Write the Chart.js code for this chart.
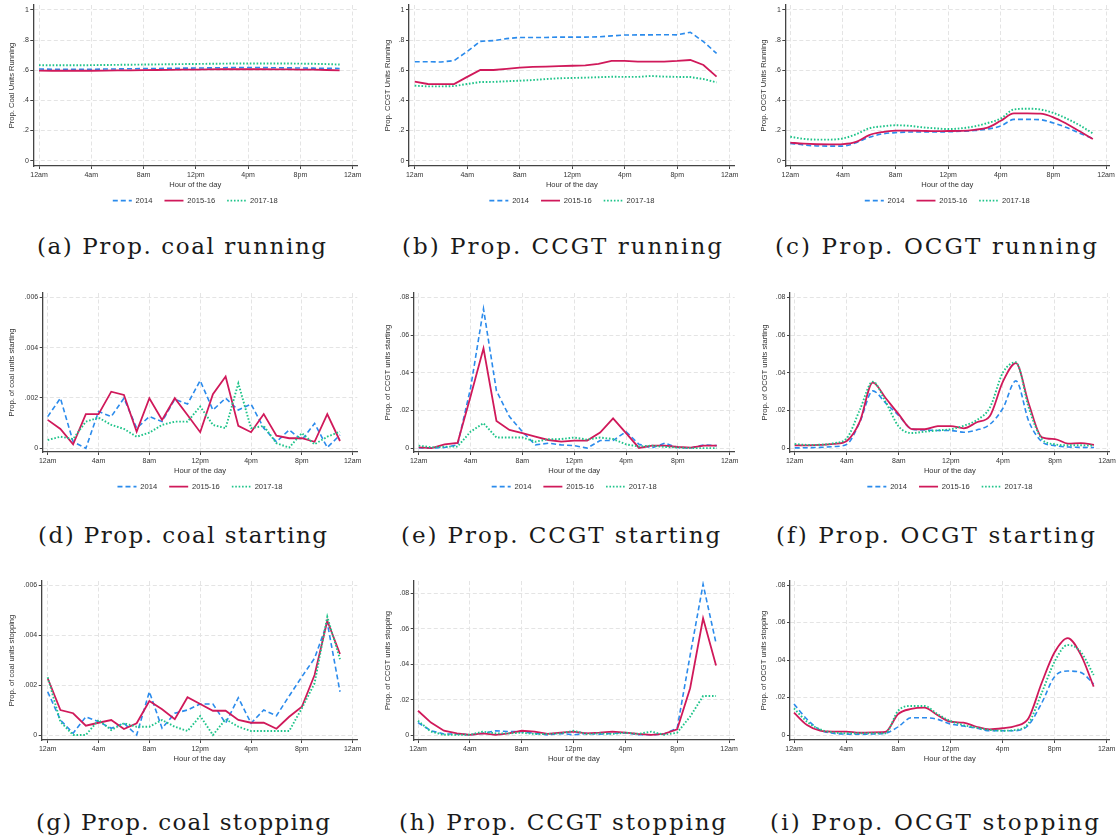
<!DOCTYPE html>
<html><head><meta charset="utf-8">
<script src="https://cdn.jsdelivr.net/npm/chart.js@4.4.1/dist/chart.umd.min.js"></script>
<style>
html,body{margin:0;padding:0;background:#fff;}
body{width:1119px;height:840px;position:relative;overflow:hidden;}
.pane{position:absolute;}
.cap{position:absolute;font-family:"DejaVu Serif",serif;font-size:23px;line-height:1;white-space:nowrap;color:#1a1a1a;}
</style></head><body>
<script>
// ---------------- data ----------------
const hours = [0,1,2,3,4,5,6,7,8,9,10,11,12,13,14,15,16,17,18,19,20,21,22,23];
const xTickValues = [0,4,8,12,16,20,24];
const xTickLabels = ['12am','4am','8am','12pm','4pm','8pm','12am'];
const seriesNames = ['2014','2015-16','2017-18'];

const runTicks = [0,0.2,0.4,0.6,0.8,1];
const runTickLabels = ['0','.2','.4','.6','.8','1'];
const coalTicks = [0,0.002,0.004,0.006];
const coalTickLabels = ['0','.002','.004','.006'];
const gasTicks = [0,0.02,0.04,0.06,0.08];
const gasTickLabels = ['0','.02','.04','.06','.08'];

const coalRun2014 = [0.608,0.607,0.607,0.607,0.607,0.608,0.609,0.610,0.611,0.612,0.613,0.614,0.615,0.616,0.617,0.618,0.618,0.618,0.617,0.616,0.615,0.614,0.613,0.612];
const coalRun1516 = [0.598,0.597,0.597,0.597,0.597,0.598,0.599,0.600,0.601,0.602,0.603,0.604,0.605,0.606,0.607,0.607,0.607,0.607,0.606,0.606,0.605,0.604,0.602,0.600];
const coalRun1718 = [0.634,0.633,0.633,0.633,0.634,0.635,0.636,0.637,0.638,0.639,0.640,0.641,0.642,0.643,0.644,0.645,0.645,0.645,0.645,0.645,0.644,0.643,0.641,0.638];

const ccgtRun2014 = [0.657,0.657,0.655,0.664,0.725,0.792,0.797,0.810,0.818,0.818,0.818,0.820,0.820,0.820,0.822,0.828,0.834,0.835,0.835,0.836,0.835,0.852,0.790,0.712];
const ccgtRun1516 = [0.524,0.509,0.508,0.508,0.556,0.602,0.602,0.610,0.617,0.622,0.624,0.627,0.630,0.632,0.642,0.662,0.662,0.657,0.657,0.658,0.662,0.668,0.635,0.558];
const ccgtRun1718 = [0.498,0.493,0.493,0.495,0.509,0.522,0.523,0.527,0.531,0.535,0.542,0.547,0.549,0.551,0.554,0.557,0.556,0.556,0.562,0.558,0.556,0.555,0.542,0.520];

const ocgtRun2014 = [0.115,0.105,0.098,0.097,0.097,0.120,0.155,0.178,0.186,0.190,0.190,0.190,0.192,0.195,0.200,0.210,0.230,0.274,0.274,0.272,0.250,0.220,0.182,0.147];
const ocgtRun1516 = [0.120,0.113,0.109,0.108,0.110,0.125,0.170,0.190,0.199,0.200,0.198,0.196,0.197,0.198,0.205,0.220,0.265,0.314,0.314,0.312,0.288,0.245,0.195,0.144];
const ocgtRun1718 = [0.159,0.145,0.140,0.140,0.148,0.175,0.215,0.228,0.235,0.232,0.222,0.215,0.210,0.215,0.228,0.250,0.280,0.340,0.345,0.340,0.317,0.280,0.235,0.181];

const coalStart2014 = [0.00126,0.00199,0.00026,0.0,0.00146,0.00126,0.00199,0.0008,0.00126,0.00106,0.00195,0.00176,0.00269,0.00152,0.00199,0.00152,0.00176,0.0008,0.00026,0.00073,0.00033,0.00099,0.00003,0.00053];
const coalStart1516 = [0.00113,0.00077,0.00016,0.00136,0.00136,0.00225,0.00212,0.00066,0.00199,0.00113,0.00199,0.00132,0.00064,0.00215,0.00285,0.00089,0.00064,0.00136,0.0005,0.0004,0.0004,0.00026,0.00136,0.00029];
const coalStart1718 = [0.00033,0.00046,0.00037,0.00106,0.00122,0.00093,0.00077,0.00046,0.00062,0.00093,0.00106,0.00106,0.00166,0.00093,0.0008,0.00258,0.0008,0.00089,0.0002,0.00003,0.0006,0.00016,0.00046,0.00066];

const ccgtStart2014 = [0.0002,0.0001,0.0004,0.0018,0.0318,0.0739,0.0304,0.0168,0.0088,0.0018,0.0027,0.0018,0.0014,0.0001,0.0041,0.0041,0.0088,0.0021,0.0002,0.0027,0.0004,0.0002,0.0018,0.0014];
const ccgtStart1516 = [0.0005,0.0001,0.0021,0.0028,0.0274,0.0530,0.0145,0.0097,0.0080,0.0062,0.0044,0.0035,0.0041,0.0041,0.0083,0.0159,0.0080,0.0002,0.0014,0.0014,0.0007,0.0004,0.0014,0.0014];
const ccgtStart1718 = [0.0014,0.0005,0.0009,0.0009,0.0088,0.0133,0.0057,0.0057,0.0057,0.0035,0.0048,0.0049,0.0057,0.0046,0.0057,0.0049,0.0021,0.0009,0.0014,0.0007,0.0004,0.0001,0.0001,0.0001];

const ocgtStart2014 = [0.0002,0.0003,0.0005,0.0009,0.0021,0.0138,0.0304,0.0239,0.0173,0.0102,0.0097,0.0094,0.0094,0.0085,0.0097,0.0127,0.0212,0.0357,0.0141,0.0035,0.0014,0.0007,0.0005,0.0004];
const ocgtStart1516 = [0.0016,0.0016,0.0018,0.0023,0.0039,0.0141,0.0348,0.0265,0.0180,0.0102,0.0101,0.0117,0.0118,0.0106,0.0138,0.0171,0.0353,0.0451,0.0233,0.0058,0.0049,0.0025,0.0027,0.0018];
const ocgtStart1718 = [0.0023,0.0018,0.0019,0.0027,0.0053,0.0203,0.0353,0.0244,0.0115,0.0081,0.0088,0.0095,0.0101,0.0120,0.0150,0.0216,0.0401,0.0456,0.0212,0.0049,0.0021,0.0016,0.0016,0.0014];

const coalStop2014 = [0.00173,0.0006,0.00007,0.00073,0.00053,0.00027,0.00047,0.0,0.00173,0.00027,0.00087,0.001,0.00124,0.00124,0.00047,0.00149,0.00047,0.001,0.00077,0.00156,0.00233,0.00307,0.00449,0.00173];
const coalStop1516 = [0.00227,0.001,0.00087,0.00037,0.00049,0.0006,0.00024,0.00047,0.00136,0.00103,0.00063,0.00151,0.00124,0.00097,0.00097,0.0006,0.00049,0.00049,0.00025,0.00073,0.00113,0.0024,0.00457,0.00324];
const coalStop1718 = [0.00231,0.00053,0.0,0.0,0.0006,0.0002,0.00047,0.00033,0.00033,0.0006,0.00033,0.00016,0.00076,0.0,0.00063,0.00033,0.00016,0.00016,0.00016,0.00016,0.00107,0.00207,0.00473,0.00303];

const ccgtStop2014 = [0.0070,0.0024,0.0006,0.0006,0.0001,0.0009,0.0024,0.0019,0.0019,0.0009,0.0001,0.0009,0.0001,0.0009,0.0004,0.0009,0.0013,0.0001,0.0001,0.0006,0.0038,0.0450,0.0851,0.0518];
const ccgtStop1516 = [0.0137,0.0070,0.0024,0.0009,0.0001,0.0009,0.0001,0.0009,0.0024,0.0019,0.0006,0.0013,0.0019,0.0009,0.0013,0.0019,0.0013,0.0006,0.0001,0.0006,0.0032,0.0264,0.0659,0.0392];
const ccgtStop1718 = [0.0081,0.0019,0.0001,0.0001,0.0001,0.0019,0.0009,0.0009,0.0013,0.0006,0.0006,0.0009,0.0024,0.0006,0.0009,0.0006,0.0013,0.0006,0.0019,0.0001,0.0013,0.0104,0.0220,0.0220];

const ocgtStop2014 = [0.0165,0.0084,0.0027,0.0009,0.0005,0.0004,0.0005,0.0009,0.0044,0.0092,0.0092,0.0084,0.0059,0.0048,0.0036,0.0023,0.0023,0.0023,0.0053,0.0169,0.0311,0.0341,0.0334,0.0272];
const ocgtStop1516 = [0.0119,0.0053,0.0023,0.0018,0.0018,0.0012,0.0014,0.0016,0.0112,0.0139,0.0146,0.0107,0.0071,0.0066,0.0044,0.0030,0.0036,0.0048,0.0089,0.0276,0.0441,0.0517,0.0430,0.0258];
const ocgtStop1718 = [0.0142,0.0071,0.0030,0.0014,0.0009,0.0009,0.0009,0.0009,0.0130,0.0155,0.0155,0.0112,0.0075,0.0053,0.0039,0.0027,0.0023,0.0027,0.0062,0.0222,0.0391,0.0480,0.0444,0.0320];

const yTitles = ['Prop. Coal Units Running','Prop. CCGT Units Running','Prop. OCGT Units Running',
  'Prop. of coal units starting','Prop. of CCGT units starting','Prop. of OCGT units starting',
  'Prop. of coal units stopping','Prop. of CCGT units stopping','Prop. of OCGT units stopping'];
const captions = ['(a) Prop. coal running','(b) Prop. CCGT running','(c) Prop. OCGT running',
  '(d) Prop. coal starting','(e) Prop. CCGT starting','(f) Prop. OCGT starting',
  '(g) Prop. coal stopping','(h) Prop. CCGT stopping','(i) Prop. OCGT stopping'];

// ---------------- style / layout ----------------
const COLORS = ['#2b8bec','#d0195a','#1fc48a'];
const DASHES = [[5,3],[],[1.6,1.8]];
const WIDTHS = [1.6,1.8,1.9];
const TXT = '#333';
const rows = [
  {top:0,   height:219, areaTop:5,   areaBot:166, legend:true},
  {top:280, height:225, areaTop:293, areaBot:452, legend:true},
  {top:570, height:193, areaTop:581, areaBot:740, legend:false}
];
const colLeft = [0,373,746];
const COLW = 373;

const panels = [
  {row:0,col:0,series:[coalRun2014,coalRun1516,coalRun1718],ticks:runTicks,labels:runTickLabels,left:33.3,x0:39,x24:352.7,right:357.3,topTick:10,zero:160.7,titleX:12.3,smooth:false},
  {row:0,col:1,series:[ccgtRun2014,ccgtRun1516,ccgtRun1718],ticks:runTicks,labels:runTickLabels,left:36,x0:41.7,x24:356.7,right:361.7,topTick:10,zero:160.7,titleX:15,smooth:false},
  {row:0,col:2,series:[ocgtRun2014,ocgtRun1516,ocgtRun1718],ticks:runTicks,labels:runTickLabels,left:39.3,x0:44.3,x24:360,right:363.3,topTick:10,zero:160.7,titleX:18.3,smooth:true},
  {row:1,col:0,series:[coalStart2014,coalStart1516,coalStart1718],ticks:coalTicks,labels:coalTickLabels,left:42.7,x0:47.7,x24:352.7,right:357.3,topTick:297.3,zero:448.3,titleX:11.7,smooth:false},
  {row:1,col:1,series:[ccgtStart2014,ccgtStart1516,ccgtStart1718],ticks:gasTicks,labels:gasTickLabels,left:40.7,x0:45.7,x24:356.7,right:361.7,topTick:297.3,zero:448.3,titleX:15,smooth:false},
  {row:1,col:2,series:[ocgtStart2014,ocgtStart1516,ocgtStart1718],ticks:gasTicks,labels:gasTickLabels,left:44,x0:48.7,x24:361,right:363.7,topTick:297.3,zero:448.3,titleX:19,smooth:true},
  {row:2,col:0,series:[coalStop2014,coalStop1516,coalStop1718],ticks:coalTicks,labels:coalTickLabels,left:41.7,x0:47.7,x24:352.7,right:357.3,topTick:585,zero:735,titleX:12.3,smooth:false},
  {row:2,col:1,series:[ccgtStop2014,ccgtStop1516,ccgtStop1718],ticks:gasTicks,labels:gasTickLabels,left:40.7,x0:45,x24:356,right:361,topTick:593.3,zero:735,titleX:15,smooth:false},
  {row:2,col:2,series:[ocgtStop2014,ocgtStop1516,ocgtStop1718],ticks:gasTicks,labels:gasTickLabels,left:44,x0:48,x24:360.7,right:363.5,topTick:585,zero:735,titleX:18.3,smooth:true}
];
const capGeo = [
  {cx:181.5,w:289,base:254},{cx:562,w:320,base:254},{cx:936,w:322,base:254},
  {cx:182.5,w:289,base:543},{cx:560.5,w:319,base:543},{cx:935.5,w:319,base:543},
  {cx:183,w:294,base:830},{cx:562.5,w:327,base:830},{cx:934.5,w:329,base:830}
];

const LEG_H = 30, X_H = 23, TICK_FS = 7, TITLE_FS = 7.6;

const legendPlace = {
  id: 'legendPlace',
  beforeLayout(chart, args, opts) {
    const lg = chart.legend;
    if (lg && !lg.__fixed) {
      const orig = lg.fit;
      lg.fit = function () { orig.apply(this, arguments); if (this.options.display) this.height = LEG_H; };
      lg.__fixed = true;
    }
  },
  afterLayout(chart, args, opts) {
    const lg = chart.legend;
    if (lg && lg.options.display) { lg.top = chart.chartArea.bottom + opts.offset; lg.bottom = lg.top + lg.height; }
  }
};

const baseGenerate = Chart.defaults.plugins.legend.labels.generateLabels;

panels.forEach((p, idx) => {
  const r = rows[p.row];
  const wrap = document.createElement('div');
  wrap.className = 'pane';
  wrap.style.left = colLeft[p.col] + 'px';
  wrap.style.top = r.top + 'px';
  const cv = document.createElement('canvas');
  cv.width = COLW; cv.height = r.height;
  cv.style.width = COLW + 'px'; cv.style.height = r.height + 'px';
  wrap.appendChild(cv);
  document.body.appendChild(wrap);

  const pph = (p.x24 - p.x0) / 24;
  const xMin = -(p.x0 - p.left) / pph;
  const xMax = 24 + (p.right - p.x24) / pph;
  const topVal = p.ticks[p.ticks.length - 1];
  const ppu = (p.zero - p.topTick) / topVal;
  const yMax = topVal + (p.topTick - r.areaTop) / ppu;
  const yMin = -(r.areaBot - p.zero) / ppu;

  const datasets = p.series.map((arr, k) => ({
    label: seriesNames[k],
    data: hours.map((h, i) => ({x: h, y: arr[i]})),
    borderColor: COLORS[k], backgroundColor: COLORS[k],
    borderWidth: WIDTHS[k], borderDash: DASHES[k],
    pointRadius: 0, fill: false,
    tension: p.smooth ? 0.4 : 0,
    cubicInterpolationMode: p.smooth ? 'monotone' : 'default',
    order: 3 - k
  }));

  const tickFont = {family: '"Liberation Sans", Arial, sans-serif', size: TICK_FS};
  const titleFont = {family: '"Liberation Sans", Arial, sans-serif', size: TITLE_FS};

  new Chart(cv, {
    type: 'line',
    data: {datasets},
    plugins: [legendPlace],
    options: {
      responsive: false, animation: false, devicePixelRatio: 1,
      layout: {padding: {left: 0, right: COLW - p.right, top: r.areaTop - r.top, bottom: 0}},
      plugins: {
        tooltip: {enabled: false},
        legendPlace: {offset: 18.8},
        legend: {
          display: r.legend, position: 'bottom', align: 'center', fullSize: false,
          labels: {
            usePointStyle: true, pointStyle: 'line', pointStyleWidth: 19,
            padding: 12, color: TXT, font: titleFont,
            sort: (a, b) => a.datasetIndex - b.datasetIndex,
            generateLabels: chart => baseGenerate(chart).map(it => {
              const ds = chart.data.datasets[it.datasetIndex];
              it.lineDash = ds.borderDash;
              it.lineWidth = ds.borderWidth;
              it.strokeStyle = ds.borderColor;
              it.fillStyle = ds.borderColor;
              it.lineCap = 'butt';
              return it;
            })
          }
        }
      },
      scales: {
        x: {
          type: 'linear', min: xMin, max: xMax,
          afterBuildTicks: s => { s.ticks = xTickValues.map(v => ({value: v})); },
          afterFit: s => { s.height = X_H; s.paddingLeft = 0; s.paddingRight = 0; },
          ticks: {
            autoSkip: false, maxRotation: 0, minRotation: 0, padding: 1.5, color: TXT, font: tickFont,
            callback: (v, i) => xTickLabels[i]
          },
          grid: {color: '#e4e4e4', lineWidth: 1, drawTicks: true, tickLength: 3, tickColor: '#444', tickWidth: 1},
          border: {display: true, color: '#444', width: 1.3, dash: [4, 2.5]},
          title: {display: true, text: 'Hour of the day', color: TXT, font: titleFont, padding: {top: 0, bottom: 0}}
        },
        y: {
          type: 'linear', min: yMin, max: yMax,
          afterBuildTicks: s => { s.ticks = p.ticks.map(v => ({value: v})); },
          afterFit: s => { s.width = p.left; s.paddingTop = 0; s.paddingBottom = 0; },
          ticks: {
            autoSkip: false, padding: 1.5, color: TXT, font: tickFont,
            callback: (v, i) => p.labels[i]
          },
          grid: {color: '#e4e4e4', lineWidth: 1, drawTicks: true, tickLength: 3, tickColor: '#444', tickWidth: 1},
          border: {display: true, color: '#444', width: 1.3, dash: [4, 2.5]},
          title: {display: true, text: yTitles[idx], color: TXT, font: titleFont,
                  padding: {top: p.titleX - TITLE_FS * 0.6, bottom: 0}}
        }
      }
    }
  });
});

// ---------------- captions ----------------
const CAP_FS = 23;
const mctx = document.createElement('canvas').getContext('2d');
mctx.font = CAP_FS + 'px "DejaVu Serif"';
captions.forEach((t, i) => {
  const g = capGeo[i];
  const nat = mctx.measureText(t).width;
  const ls = (g.w - nat) / (t.length - 1);
  const d = document.createElement('div');
  d.className = 'cap';
  d.textContent = t;
  d.style.letterSpacing = ls.toFixed(2) + 'px';
  d.style.left = (g.cx - g.w / 2) + 'px';
  d.style.top = (g.base - 0.846 * CAP_FS) + 'px';
  document.body.appendChild(d);
});
</script>
</body></html>
